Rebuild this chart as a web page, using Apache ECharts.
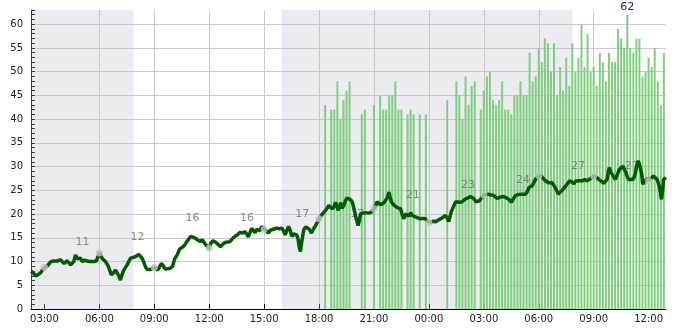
<!DOCTYPE html>
<html><head><meta charset="utf-8">
<script src="https://cdn.jsdelivr.net/npm/echarts@6/dist/echarts.min.js"></script>
<style>html,body{margin:0;padding:0;background:#fff}#c{width:685px;height:330px}</style>
</head><body><div id="c"></div><script>
// times are "day HH:MM" (day 1 / day 2)
const lineTimes = ['1 02:16','1 02:24','1 02:30','1 02:38','1 02:47','1 02:55','1 03:00','1 03:08','1 03:14','1 03:22','1 03:30','1 03:42','1 03:52','1 03:58','1 04:05','1 04:09','1 04:14','1 04:20','1 04:26','1 04:31','1 04:36','1 04:42','1 04:47','1 04:52','1 04:58','1 05:04','1 05:12','1 05:20','1 05:30','1 05:42','1 05:50','1 05:55','1 06:00','1 06:05','1 06:10','1 06:20','1 06:28','1 06:34','1 06:39','1 06:46','1 06:53','1 07:00','1 07:05','1 07:09','1 07:14','1 07:20','1 07:31','1 07:42','1 07:58','1 08:09','1 08:15','1 08:20','1 08:26','1 08:31','1 08:37','1 08:42','1 08:48','1 08:53','1 09:00','1 09:06','1 09:11','1 09:18','1 09:24','1 09:30','1 09:36','1 09:42','1 09:53','1 10:00','1 10:07','1 10:15','1 10:23','1 10:32','1 10:40','1 10:51','1 11:00','1 11:04','1 11:12','1 11:19','1 11:25','1 11:30','1 11:37','1 11:43','1 11:49','1 11:55','1 12:00','1 12:05','1 12:13','1 12:24','1 12:30','1 12:37','1 12:44','1 12:51','1 13:00','1 13:08','1 13:16','1 13:24','1 13:32','1 13:40','1 13:50','1 13:57','1 14:03','1 14:08','1 14:13','1 14:19','1 14:25','1 14:30','1 14:36','1 14:41','1 14:46','1 14:52','1 14:56','1 15:00','1 15:07','1 15:14','1 15:20','1 15:25','1 15:35','1 15:42','1 15:50','1 15:58','1 16:04','1 16:09','1 16:14','1 16:20','1 16:26','1 16:31','1 16:37','1 16:42','1 16:47','1 16:51','1 16:55','1 16:59','1 17:04','1 17:10','1 17:16','1 17:21','1 17:28','1 17:35','1 17:42','1 17:48','1 17:54','1 18:00','1 18:08','1 18:15','1 18:24','1 18:32','1 18:38','1 18:43','1 18:49','1 18:54','1 18:58','1 19:03','1 19:07','1 19:11','1 19:15','1 19:18','1 19:22','1 19:27','1 19:32','1 19:38','1 19:44','1 19:49','1 19:53','1 19:57','1 20:02','1 20:08','1 20:12','1 20:16','1 20:24','1 20:32','1 20:40','1 20:49','1 20:55','1 21:00','1 21:06','1 21:10','1 21:16','1 21:21','1 21:27','1 21:32','1 21:38','1 21:44','1 21:49','1 21:53','1 21:58','1 22:04','1 22:11','1 22:19','1 22:27','1 22:32','1 22:38','1 22:43','1 22:49','1 22:55','1 23:00','1 23:05','1 23:10','1 23:16','1 23:24','1 23:32','1 23:40','1 23:48','1 23:55','2 00:00','2 00:08','2 00:15','2 00:22','2 00:30','2 00:38','2 00:46','2 00:54','2 01:00','2 01:05','2 01:09','2 01:13','2 01:18','2 01:22','2 01:28','2 01:33','2 01:40','2 01:49','2 01:55','2 02:00','2 02:08','2 02:16','2 02:22','2 02:27','2 02:34','2 02:40','2 02:46','2 02:51','2 03:00','2 03:08','2 03:16','2 03:24','2 03:33','2 03:38','2 03:44','2 03:52','2 04:00','2 04:08','2 04:17','2 04:24','2 04:30','2 04:37','2 04:44','2 04:52','2 05:00','2 05:08','2 05:17','2 05:23','2 05:28','2 05:34','2 05:39','2 05:45','2 05:50','2 05:55','2 06:00','2 06:08','2 06:14','2 06:22','2 06:28','2 06:33','2 06:38','2 06:44','2 06:50','2 06:55','2 07:00','2 07:04','2 07:10','2 07:15','2 07:22','2 07:28','2 07:35','2 07:41','2 07:48','2 07:55','2 08:00','2 08:06','2 08:12','2 08:17','2 08:24','2 08:31','2 08:38','2 08:44','2 08:52','2 09:00','2 09:08','2 09:17','2 09:25','2 09:33','2 09:38','2 09:44','2 09:48','2 09:51','2 09:55','2 10:00','2 10:05','2 10:11','2 10:17','2 10:24','2 10:30','2 10:35','2 10:40','2 10:46','2 10:50','2 10:55','2 11:00','2 11:08','2 11:13','2 11:17','2 11:22','2 11:26','2 11:30','2 11:33','2 11:37','2 11:41','2 11:45','2 11:50','2 11:55','2 12:00','2 12:05','2 12:11','2 12:16','2 12:22','2 12:28','2 12:33','2 12:37','2 12:42','2 12:46','2 12:49','2 12:53','2 12:57'];
const lineValues = [8.0,7.6,7.0,7.2,7.6,8.4,8.8,9.0,9.4,10.0,10.1,10.1,10.4,10.3,9.6,9.4,10.2,10.3,9.3,9.6,10.0,11.4,10.6,10.3,10.7,10.0,10.3,10.1,10.0,10.0,10.1,10.3,11.8,11.2,10.6,10.0,9.2,8.2,7.2,7.6,8.2,7.4,6.8,6.1,7.2,8.2,9.3,10.7,11.0,11.5,11.3,10.7,9.8,8.9,8.3,8.1,8.3,8.6,8.8,8.5,8.2,9.0,9.6,9.0,8.4,8.2,8.6,9.0,10.6,11.4,12.6,13.0,13.5,14.6,15.3,15.4,15.0,14.7,14.4,14.2,14.6,14.4,13.5,13.2,12.8,13.8,14.4,13.9,13.5,13.1,13.6,14.0,14.1,14.2,14.8,15.3,15.6,16.1,16.0,16.3,15.8,15.2,16.0,17.0,16.6,16.1,16.8,17.0,16.5,17.4,17.2,16.8,16.5,16.0,16.6,17.0,16.9,17.0,16.9,17.0,16.4,15.6,16.5,17.4,16.5,15.3,15.8,16.0,15.6,14.8,13.0,12.1,14.5,16.7,17.3,17.7,16.8,16.0,16.9,17.5,18.2,19.0,19.8,20.3,21.0,21.8,21.4,21.1,21.6,22.5,21.6,20.8,21.6,22.4,21.2,20.8,21.9,22.9,23.4,23.6,23.0,22.5,21.5,20.4,19.0,17.6,18.6,20.1,20.2,20.3,20.2,20.3,20.6,21.1,21.8,22.6,22.4,22.0,21.6,22.3,22.5,23.5,24.6,23.5,22.5,22.0,21.6,21.3,21.1,20.0,19.0,20.0,20.4,19.6,20.3,19.7,19.3,19.4,19.2,19.0,19.1,19.0,18.5,18.2,18.3,18.5,18.4,18.7,19.0,19.3,19.7,19.2,18.4,18.5,20.4,21.2,21.8,22.6,22.8,22.5,22.6,22.8,23.2,23.4,23.7,23.5,23.3,22.6,22.3,22.8,23.3,24.0,24.1,24.2,24.0,23.9,23.5,23.3,23.5,23.7,23.6,23.3,23.0,22.5,23.2,23.9,24.1,24.2,24.2,24.2,24.8,25.6,25.8,26.0,26.8,27.4,27.8,28.1,28.0,27.6,27.0,26.8,26.6,27.0,26.6,26.0,25.6,24.8,24.2,24.5,24.9,25.4,25.9,26.5,27.0,26.8,26.4,26.9,27.3,27.0,26.6,27.0,27.3,27.0,27.2,27.6,28.0,27.8,27.3,26.9,26.5,26.6,27.3,28.8,29.8,29.0,28.6,27.9,27.3,28.2,29.4,29.8,30.1,29.5,28.7,27.8,27.3,27.3,27.3,27.8,28.7,30.5,31.2,30.5,30.8,28.5,26.3,26.8,27.0,27.4,27.0,27.3,27.7,28.0,28.2,27.3,26.3,25.2,23.1,25.0,27.3,27.0,27.7];

const barTimes = ['1 18:20','1 18:40','1 18:50','1 19:00','1 19:10','1 19:20','1 19:30','1 19:40','1 20:20','1 20:30','1 21:00','1 21:20','1 21:30','1 21:40','1 21:50','1 22:00','1 22:10','1 22:20','1 22:30','1 22:50','1 23:00','1 23:10','1 23:30','1 23:50','2 01:00','2 01:30','2 01:40','2 01:50','2 02:00','2 02:10','2 02:20','2 02:30','2 02:50','2 03:00','2 03:10','2 03:20','2 03:30','2 03:40','2 03:50','2 04:00','2 04:10','2 04:20','2 04:30','2 04:40','2 04:50','2 05:00','2 05:10','2 05:20','2 05:30','2 05:40','2 05:50','2 06:00','2 06:10','2 06:20','2 06:30','2 06:40','2 06:50','2 07:00','2 07:10','2 07:20','2 07:30','2 07:40','2 07:50','2 08:00','2 08:10','2 08:20','2 08:30','2 08:40','2 08:50','2 09:00','2 09:10','2 09:20','2 09:30','2 09:40','2 09:50','2 10:00','2 10:10','2 10:20','2 10:30','2 10:40','2 10:50','2 11:00','2 11:10','2 11:20','2 11:30','2 11:40','2 11:50','2 12:00','2 12:10','2 12:20','2 12:30','2 12:40','2 12:50'];
const barValues = [43,42,42,48,40,44,46,48,41,42,43,45,42,42,45,45,48,42,42,41,42,41,41,41,44,48,45,40,49,43,47,48,42,46,49,50,44,43,44,48,42,42,41,45,45,48,45,45,54,48,49,55,52,57,56,50,56,45,51,46,53,47,56,50,53,60,51,58,50,51,47,54,52,48,54,52,52,59,57,55,62,55,54,57,57,49,50,53,51,55,48,43,54];

const pointTimes = ['1 03:00','1 06:00','1 09:00','1 12:00','1 15:00','1 18:00','1 21:00','2 00:00','2 03:00','2 06:00','2 09:00','2 12:00'];
const pointValues = [8.8,11.8,8.8,12.8,16.8,19.0,21.1,18.2,24.0,28.1,28.0,27.0];

const labelTimes = ['1 05:05','1 08:05','1 11:05','1 14:04','1 17:05','1 20:05','1 23:07','2 02:08','2 05:08','2 08:09','2 11:05'];
const labelValues = [11,12,16,16,17,17,21,23,24,27,27];

const xTickTimes = ['1 03:00','1 06:00','1 09:00','1 12:00','1 15:00','1 18:00','1 21:00','2 00:00','2 03:00','2 06:00','2 09:00','2 12:00'];

const axisStart = '1 02:16', axisEnd = '2 12:57';
const nightStarts = ['1 02:16','1 15:57'];
const nightEnds = ['1 07:52','2 07:50'];

// hours since day-1 midnight
function t(s){ const d=+s[0], hh=+s.slice(2,4), mm=+s.slice(5,7); return (d-1)*24 + hh + mm/60; }
function pad(n){ return (n<10?'0':'')+n; }
function fmt(v){ const m=Math.round(v*60); const h=Math.floor(m/60)%24, mm=m%60; return pad(h)+':'+pad(mm); }

const FONT = 'DejaVu Sans';
const barMax = Math.max.apply(null, barValues);
const barData = barTimes.map((s,i)=>{
  const it = {value:[t(s), barValues[i]]};
  if (barValues[i]===barMax) it.label = {show:true, position:'top', distance:2, color:'#1a1a80', fontSize:11, fontFamily:FONT, formatter:String(barMax)};
  return it;
});
const lineData = lineTimes.map((s,i)=>[t(s), lineValues[i]]);
const pointData = pointTimes.map((s,i)=>[t(s), pointValues[i]]);
const labelData = labelTimes.map((s,i)=>[t(s), labelValues[i]]);
const nightAreas = nightStarts.map((s,i)=>[{xAxis:t(s)},{xAxis:t(nightEnds[i])}]);
const xTicks = xTickTimes.map(t);

const chart = echarts.init(document.getElementById('c'), null, {renderer:'canvas'});
chart.setOption({
  animation:false,
  textStyle:{fontFamily:FONT},
  grid:{left:31,right:19,top:10,bottom:21,containLabel:false},
  xAxis:{type:'value', min:t(axisStart), max:t(axisEnd),
    axisLine:{show:true,lineStyle:{color:'#000',width:1}},
    axisTick:{show:true,inside:true,length:5,lineStyle:{color:'#000'},customValues:xTicks},
    axisLabel:{fontSize:10,color:'#222',fontFamily:FONT,margin:5,formatter:fmt,hideOverlap:false,customValues:xTicks},
    splitLine:{show:true,showMinLine:false,showMaxLine:false,lineStyle:{color:'#cccccc',width:1}}
  },
  yAxis:[
    {type:'value',min:0,max:63,interval:5,position:'left',
      axisLine:{show:true,lineStyle:{color:'#000',width:1}},
      axisTick:{show:false},
      axisLabel:{fontSize:10,color:'#222',fontFamily:FONT,margin:8,showMaxLabel:false},
      splitLine:{show:true,showMaxLine:false,lineStyle:{color:'#cccccc',width:1}}},
    {type:'value',min:0,max:63,interval:1,position:'left',offset:0,
      axisLine:{show:false},
      axisTick:{show:true,inside:true,length:4,lineStyle:{color:'#000'}},
      axisLabel:{show:false},splitLine:{show:false}}
  ],
  series:[
    {type:'bar', name:'bars', data:barData, barWidth:2, itemStyle:{color:'#80cf80'}, silent:true,
      markArea:{silent:true, itemStyle:{color:'rgba(190,190,208,0.3)'}, data:nightAreas}},
    {type:'scatter', name:'labels', data:labelData, symbolSize:0, silent:true,
      label:{show:true, position:'top', distance:9, color:'#707070', fontSize:11, fontFamily:FONT, formatter:p=>String(p.value[1])}},
    {type:'line', name:'line', data:lineData, showSymbol:false, symbol:'none', silent:true,
      lineStyle:{color:'#005c00', width:3.5}},
    {type:'scatter', name:'points', data:pointData, symbolSize:7, silent:true, itemStyle:{color:'#c4c4c4'}, z:5}
  ]
});
</script></body></html>
